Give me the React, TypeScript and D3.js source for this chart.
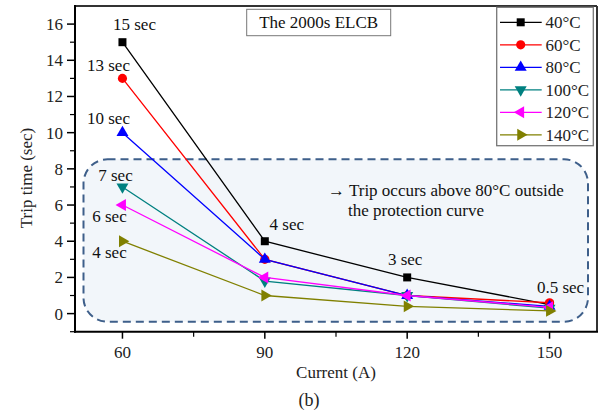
import React from "react";
import * as d3 from "d3";

const currents = [60, 90, 120, 150];
const seriesNames = ["40°C", "60°C", "80°C", "100°C", "120°C", "140°C"];
const t40 = [15, 4, 2, 0.5];
const t60 = [13, 3, 1, 0.6];
const t80 = [10, 3, 1, 0.4];
const t100 = [7, 1.8, 1, 0.3];
const t120 = [6, 2, 1, 0.35];
const t140 = [4, 1, 0.4, 0.15];
const seriesValues = [t40, t60, t80, t100, t120, t140];
const xTicks = [60, 90, 120, 150];
const xMinorTicks = [75, 105, 135];
const yTicks = [0, 2, 4, 6, 8, 10, 12, 14, 16];
const yMinorTicks = [-1, 1, 3, 5, 7, 9, 11, 13, 15];
// annotation labels: [series index, point index, text]
const pointLabels: [number, number, string][] = [
  [0, 0, "15 sec"],
  [1, 0, "13 sec"],
  [2, 0, "10 sec"],
  [3, 0, "7 sec"],
  [4, 0, "6 sec"],
  [5, 0, "4 sec"],
  [0, 1, "4 sec"],
  [0, 2, "3 sec"],
  [0, 3, "0.5 sec"],
];
const titleText = "The 2000s ELCB";
const noteLines = ["→ Trip occurs above 80°C outside", "the protection curve"];
const xTitle = "Current (A)";
const yTitle = "Trip time (sec)";
const caption = "(b)";

// layout / style (not data)
const labelOffsets: [number, number][] = [
  [12, -12],
  [-14, -7],
  [-14, -9],
  [-7, -6],
  [-13, 17],
  [-13, 17],
  [22, -11],
  [-2, -12],
  [11, -12],
];
const colors = ["#000000", "#ff0000", "#0000ff", "#008080", "#ff00ff", "#808000"];
const shapes = [
  { type: d3.symbolSquare, rot: 0, size: 64 },
  { type: d3.symbolCircle, rot: 0, size: 66 },
  { type: d3.symbolTriangle, rot: 0, size: 62 },
  { type: d3.symbolTriangle, rot: 180, size: 62 },
  { type: d3.symbolTriangle, rot: -90, size: 62 },
  { type: d3.symbolTriangle, rot: 90, size: 62 },
];
const FONT = "Liberation Serif, Times New Roman, DejaVu Serif, serif";

export default function App() {
  const W = 602, H = 414;
  const L = 75, R = 597, T = 6, B = 331.7;
  const x = d3.scaleLinear().domain([50, 160]).range([L, R]);
  const y = d3.scaleLinear().domain([-1, 17]).range([B, T]);
  const line = d3
    .line<number>()
    .x((_, i) => x(currents[i]))
    .y((d) => y(d));

  const sym = (i: number) => d3.symbol().type(shapes[i].type).size(shapes[i].size)()!;
  const ts = { fontFamily: FONT };

  return (
    <svg
      width={W}
      height={H}
      style={{ position: "absolute", left: 0, top: 0, background: "#fff", fontFamily: FONT }}
    >
      <rect x={0} y={0} width={W} height={H} fill="#fff" />
      {/* protection zone */}
      <rect
        x={83.5}
        y={159.3}
        width={588 - 83.5}
        height={321.7 - 159.3}
        rx={24}
        ry={24}
        fill="#f2f6fa"
        stroke="#3e5f8a"
        strokeWidth={2}
        strokeDasharray="8,5"
      />
      {/* frame top/right */}
      <line x1={L} x2={R} y1={T} y2={T} stroke="#333" strokeWidth={2} />
      <line x1={R} x2={R} y1={T} y2={B} stroke="#333" strokeWidth={2} />
      {/* title box */}
      <rect x={246.7} y={9.3} width={144} height={26.4} fill="#fff" stroke="#777" strokeWidth={1} />
      <text style={ts} x={318.7} y={28} textAnchor="middle" fontSize={17} fill="#111">
        {titleText}
      </text>
      {/* note */}
      <text style={ts} x={328} y={196} fontSize={17} fill="#111">
        {noteLines[0]}
      </text>
      <text style={ts} x={348} y={216} fontSize={17} fill="#111">
        {noteLines[1]}
      </text>
      {/* series */}
      {seriesValues.map((vals, s) => (
        <g key={s}>
          <path d={line(vals)!} fill="none" stroke={colors[s]} strokeWidth={1.3} />
          {vals.map((v, i) => (
            <path
              key={i}
              d={sym(s)}
              transform={`translate(${x(currents[i])},${y(v)}) rotate(${shapes[s].rot})`}
              fill={colors[s]}
            />
          ))}
        </g>
      ))}
      {/* point labels */}
      {pointLabels.map(([s, i, txt], k) => (
        <text
          key={k}
          style={ts}
          x={x(currents[i]) + labelOffsets[k][0]}
          y={y(seriesValues[s][i]) + labelOffsets[k][1]}
          textAnchor="middle"
          fontSize={17}
          fill="#111"
        >
          {txt}
        </text>
      ))}
      {/* axes */}
      <line x1={L} x2={L} y1={T - 1} y2={B + 1} stroke="#000" strokeWidth={2} />
      <line x1={L - 1} x2={R + 1} y1={B} y2={B} stroke="#000" strokeWidth={2} />
      {yTicks.map((t) => (
        <g key={"y" + t}>
          <line x1={L - 8} x2={L} y1={y(t)} y2={y(t)} stroke="#000" strokeWidth={1.5} />
          <text style={ts} x={63} y={y(t) + 6} textAnchor="end" fontSize={17} fill="#222">
            {t}
          </text>
        </g>
      ))}
      {yMinorTicks.map((t) => (
        <line key={"ym" + t} x1={L - 5} x2={L} y1={y(t)} y2={y(t)} stroke="#000" strokeWidth={1.2} />
      ))}
      {xTicks.map((t) => (
        <g key={"x" + t}>
          <line x1={x(t)} x2={x(t)} y1={B} y2={B + 7} stroke="#000" strokeWidth={1.5} />
          <text style={ts} x={x(t)} y={357.5} textAnchor="middle" fontSize={17} fill="#222">
            {t}
          </text>
        </g>
      ))}
      {xMinorTicks.map((t) => (
        <line key={"xm" + t} x1={x(t)} x2={x(t)} y1={B} y2={B + 5} stroke="#000" strokeWidth={1.2} />
      ))}
      <text style={ts} x={(L + R) / 2} y={377.5} textAnchor="middle" fontSize={17} fill="#222">
        {xTitle}
      </text>
      <text
        style={ts}
        transform={`translate(31.5,178) rotate(-90)`}
        textAnchor="middle"
        fontSize={17}
        fill="#222"
      >
        {yTitle}
      </text>
      <text style={ts} x={309} y={406} textAnchor="middle" fontSize={18} fill="#222">
        {caption}
      </text>
      {/* legend */}
      <rect x={496.7} y={7.3} width={96.6} height={138.4} fill="#fff" stroke="#777" strokeWidth={1.3} />
      {seriesNames.map((n, s) => {
        const ly = 22.3 + s * 22.5;
        return (
          <g key={n}>
            <line x1={500} x2={541.7} y1={ly} y2={ly} stroke={colors[s]} strokeWidth={1.3} />
            <path d={sym(s)} transform={`translate(520.7,${ly}) rotate(${shapes[s].rot})`} fill={colors[s]} />
            <text style={ts} x={545.5} y={ly + 6} fontSize={17} fill="#222">
              {n}
            </text>
          </g>
        );
      })}
    </svg>
  );
}
